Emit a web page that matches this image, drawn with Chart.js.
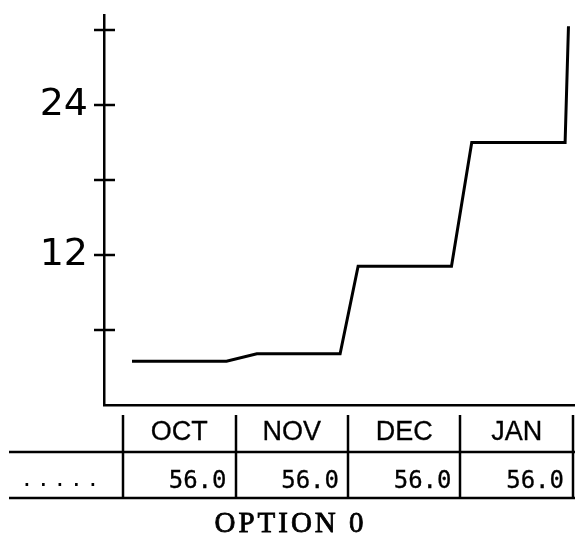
<!DOCTYPE html>
<html>
<head>
<meta charset="utf-8">
<script src="https://cdn.jsdelivr.net/npm/chart.js@4.4.1/dist/chart.umd.min.js"></script>
<style>
  html, body { margin: 0; padding: 0; background: #fff; }
  #wrap { width: 575px; height: 541px; }
</style>
</head>
<body>
<div id="wrap"><canvas id="chart" width="575" height="541"></canvas></div>
<script>
// months along the bottom table, one column per month (x = 0..4)
const months = ['OCT', 'NOV', 'DEC', 'JAN'];
const rowValues = ['56.0', '56.0', '56.0', '56.0'];
const rowLabel = '.....';
const caption = 'OPTION 0';

// line points: x in months from start of OCT, y in units
const pointX = [0.08, 0.92, 1.19, 1.93, 2.09, 2.92, 3.10, 3.93, 3.96];
const pointY = [3.5, 3.5, 4.1, 4.1, 11.1, 11.1, 21.0, 21.0, 30.3];

// y axis
const yLabelTicks = [12, 24];
const yTickMarks = [6, 12, 18, 24, 30];

const lineData = pointX.map((x, i) => ({ x: x, y: pointY[i] }));

// tick marks that cross the y axis
const crossTicks = {
    id: 'crossTicks',
    afterDraw(chart) {
        const ctx = chart.ctx;
        const y = chart.scales.y;
        const left = chart.chartArea.left;
        ctx.save();
        ctx.strokeStyle = '#000';
        ctx.lineWidth = 2.5;
        yTickMarks.forEach(v => {
            const py = Math.round(y.getPixelForValue(v));
            ctx.beginPath();
            ctx.moveTo(left - 10, py);
            ctx.lineTo(left + 11, py);
            ctx.stroke();
        });
        ctx.restore();
    }
};

// data table under the x axis
const monthTable = {
    id: 'monthTable',
    afterDraw(chart) {
        const ctx = chart.ctx;
        const x = chart.scales.x;
        const top = 415, mid = 452, bottom = 498;
        ctx.save();
        ctx.strokeStyle = '#000';
        ctx.fillStyle = '#000';
        ctx.lineWidth = 2.5;
        // row lines
        [mid, bottom].forEach(py => {
            ctx.beginPath();
            ctx.moveTo(9, py);
            ctx.lineTo(575, py);
            ctx.stroke();
        });
        // column dividers
        for (let i = 0; i <= months.length; i++) {
            const px = Math.round(x.getPixelForValue(i));
            ctx.beginPath();
            ctx.moveTo(px, top);
            ctx.lineTo(px, bottom);
            ctx.stroke();
        }
        ctx.lineWidth = 0.3;
        ctx.textBaseline = 'middle';
        ctx.font = '27px "Liberation Sans"';
        ctx.textAlign = 'center';
        months.forEach((m, i) => {
            const px = x.getPixelForValue(i + 0.5);
            ctx.fillText(m, px, 433);
            ctx.strokeText(m, px, 433);
        });
        ctx.font = '24px "DejaVu Sans Mono"';
        ctx.textAlign = 'right';
        rowValues.forEach((v, i) => {
            const px = x.getPixelForValue(i + 1) - 9;
            ctx.fillText(v, px, 482);
            ctx.strokeText(v, px, 482);
        });
        ctx.font = 'bold 15px "DejaVu Sans"';
        ctx.textAlign = 'left';
        ctx.textBaseline = 'alphabetic';
        ctx.letterSpacing = '10.8px';
        ctx.fillText(rowLabel, 24, 486);
        // caption in a serif face, spaced like a typewriter face
        ctx.letterSpacing = '3px';
        ctx.textBaseline = 'middle';
        ctx.font = '29px "Liberation Serif"';
        ctx.textAlign = 'center';
        ctx.lineWidth = 0.8;
        ctx.fillText(caption, 290.5, 524);
        ctx.strokeText(caption, 290.5, 524);
        ctx.restore();
    }
};

new Chart(document.getElementById('chart'), {
    type: 'line',
    data: {
        datasets: [{
            data: lineData,
            borderColor: '#000',
            borderWidth: 3,
            pointRadius: 0,
            tension: 0,
            fill: false,
        }]
    },
    options: {
        responsive: false,
        animation: false,
        layout: { padding: { top: 15, right: 0, bottom: 136, left: 0 } },
        plugins: { legend: { display: false }, tooltip: { enabled: false } },
        scales: {
            x: {
                type: 'linear',
                min: -0.169,
                max: 4.018,
                grid: { display: false, drawTicks: false },
                ticks: { display: false },
                border: { display: true, color: '#000', width: 2.5 },
                afterFit: (s) => { s.paddingLeft = 0; s.paddingRight = 0; s.height = 0; }
            },
            y: {
                min: 0,
                max: 31.2,
                afterBuildTicks: (s) => { s.ticks = yLabelTicks.map(v => ({ value: v })); },
                afterFit: (s) => { s.width = 104; s.paddingTop = 0; s.paddingBottom = 0; },
                grid: { display: false, drawTicks: false },
                border: { display: true, color: '#000', width: 2.5 },
                ticks: {
                    color: '#000',
                    padding: 16,
                    font: { family: 'DejaVu Sans', size: 38 },
                    callback: (v) => String(v)
                }
            }
        }
    },
    plugins: [crossTicks, monthTable]
});
</script>
</body>
</html>
